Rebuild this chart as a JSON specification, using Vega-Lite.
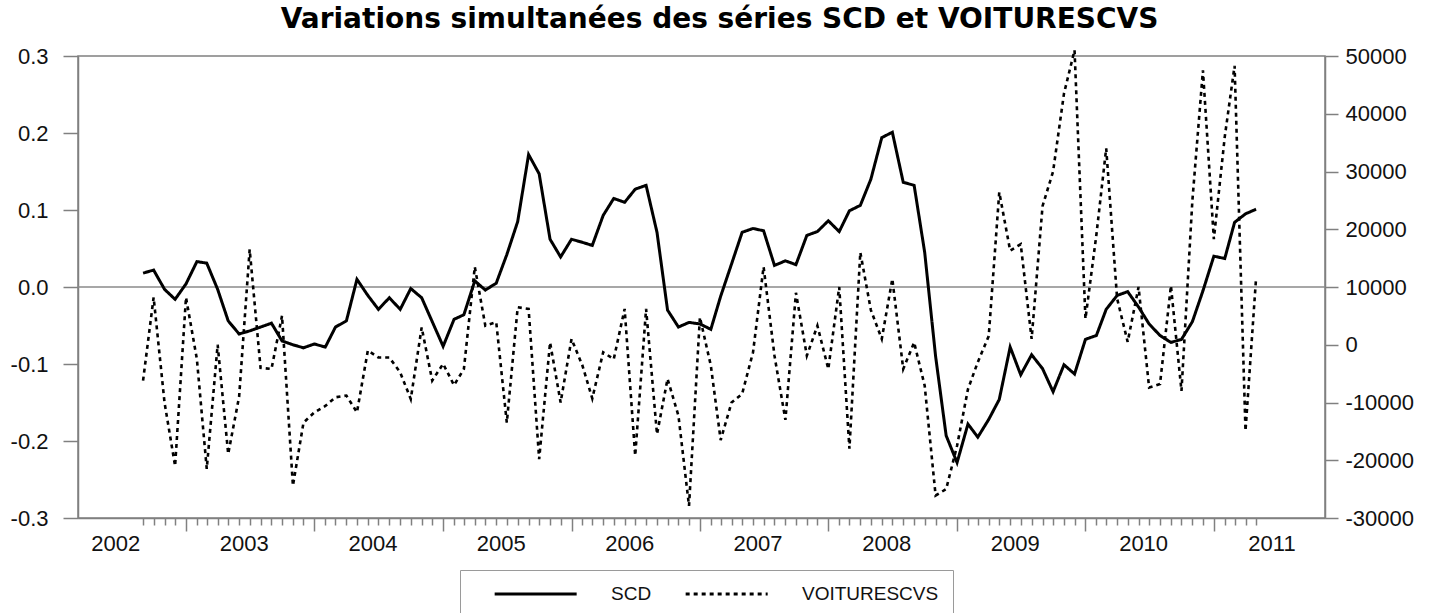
{
  "$schema": "https://vega.github.io/schema/vega-lite/v6.json",
  "width": 1247,
  "height": 462,
  "autosize": {"type": "none"},
  "padding": {"left": 78, "top": 56, "right": 110, "bottom": 95},
  "background": "white",
  "title": {
    "text": "Variations simultanées des séries SCD et VOITURESCVS",
    "font": "DejaVu Sans",
    "fontSize": 28,
    "fontWeight": "bold",
    "color": "#000000",
    "anchor": "middle",
    "baseline": "alphabetic",
    "offset": -11,
    "dx": 18
  },
  "data": {
    "values": [
      {"date": "2002-09-01", "SCD": 0.018, "VOITURESCVS": -6200},
      {"date": "2002-10-01", "SCD": 0.022, "VOITURESCVS": 8200},
      {"date": "2002-11-01", "SCD": -0.003, "VOITURESCVS": -10000},
      {"date": "2002-12-01", "SCD": -0.016, "VOITURESCVS": -21000},
      {"date": "2003-01-01", "SCD": 0.004, "VOITURESCVS": 8200},
      {"date": "2003-02-01", "SCD": 0.033, "VOITURESCVS": -2500},
      {"date": "2003-03-01", "SCD": 0.031, "VOITURESCVS": -21500},
      {"date": "2003-04-01", "SCD": -0.003, "VOITURESCVS": 0},
      {"date": "2003-05-01", "SCD": -0.044, "VOITURESCVS": -18900},
      {"date": "2003-06-01", "SCD": -0.061, "VOITURESCVS": -9000},
      {"date": "2003-07-01", "SCD": -0.057, "VOITURESCVS": 16500},
      {"date": "2003-08-01", "SCD": -0.052, "VOITURESCVS": -4000},
      {"date": "2003-09-01", "SCD": -0.047, "VOITURESCVS": -4200},
      {"date": "2003-10-01", "SCD": -0.070, "VOITURESCVS": 5000},
      {"date": "2003-11-01", "SCD": -0.075, "VOITURESCVS": -24400},
      {"date": "2003-12-01", "SCD": -0.079, "VOITURESCVS": -13500},
      {"date": "2004-01-01", "SCD": -0.074, "VOITURESCVS": -11700},
      {"date": "2004-02-01", "SCD": -0.078, "VOITURESCVS": -10600},
      {"date": "2004-03-01", "SCD": -0.052, "VOITURESCVS": -9100},
      {"date": "2004-04-01", "SCD": -0.044, "VOITURESCVS": -8800},
      {"date": "2004-05-01", "SCD": 0.010, "VOITURESCVS": -11700},
      {"date": "2004-06-01", "SCD": -0.011, "VOITURESCVS": -1000},
      {"date": "2004-07-01", "SCD": -0.029, "VOITURESCVS": -2200},
      {"date": "2004-08-01", "SCD": -0.014, "VOITURESCVS": -2200},
      {"date": "2004-09-01", "SCD": -0.029, "VOITURESCVS": -4800},
      {"date": "2004-10-01", "SCD": -0.002, "VOITURESCVS": -9400},
      {"date": "2004-11-01", "SCD": -0.014, "VOITURESCVS": 3000},
      {"date": "2004-12-01", "SCD": -0.045, "VOITURESCVS": -6200},
      {"date": "2005-01-01", "SCD": -0.077, "VOITURESCVS": -3300},
      {"date": "2005-02-01", "SCD": -0.042, "VOITURESCVS": -7000},
      {"date": "2005-03-01", "SCD": -0.036, "VOITURESCVS": -4200},
      {"date": "2005-04-01", "SCD": 0.008, "VOITURESCVS": 13500},
      {"date": "2005-05-01", "SCD": -0.004, "VOITURESCVS": 3300},
      {"date": "2005-06-01", "SCD": 0.005, "VOITURESCVS": 3900},
      {"date": "2005-07-01", "SCD": 0.042, "VOITURESCVS": -13500},
      {"date": "2005-08-01", "SCD": 0.085, "VOITURESCVS": 6500},
      {"date": "2005-09-01", "SCD": 0.172, "VOITURESCVS": 6200},
      {"date": "2005-10-01", "SCD": 0.147, "VOITURESCVS": -19800},
      {"date": "2005-11-01", "SCD": 0.062, "VOITURESCVS": 400},
      {"date": "2005-12-01", "SCD": 0.039, "VOITURESCVS": -10000},
      {"date": "2006-01-01", "SCD": 0.062, "VOITURESCVS": 1000},
      {"date": "2006-02-01", "SCD": 0.058, "VOITURESCVS": -3600},
      {"date": "2006-03-01", "SCD": 0.054, "VOITURESCVS": -9300},
      {"date": "2006-04-01", "SCD": 0.093, "VOITURESCVS": -1300},
      {"date": "2006-05-01", "SCD": 0.115, "VOITURESCVS": -2500},
      {"date": "2006-06-01", "SCD": 0.110, "VOITURESCVS": 6200},
      {"date": "2006-07-01", "SCD": 0.127, "VOITURESCVS": -19200},
      {"date": "2006-08-01", "SCD": 0.132, "VOITURESCVS": 6200},
      {"date": "2006-09-01", "SCD": 0.071, "VOITURESCVS": -15500},
      {"date": "2006-10-01", "SCD": -0.030, "VOITURESCVS": -5900},
      {"date": "2006-11-01", "SCD": -0.052, "VOITURESCVS": -12300},
      {"date": "2006-12-01", "SCD": -0.046, "VOITURESCVS": -27900},
      {"date": "2007-01-01", "SCD": -0.048, "VOITURESCVS": 4750},
      {"date": "2007-02-01", "SCD": -0.055, "VOITURESCVS": -3600},
      {"date": "2007-03-01", "SCD": -0.012, "VOITURESCVS": -16500},
      {"date": "2007-04-01", "SCD": 0.030, "VOITURESCVS": -10000},
      {"date": "2007-05-01", "SCD": 0.071, "VOITURESCVS": -8500},
      {"date": "2007-06-01", "SCD": 0.076, "VOITURESCVS": -1300},
      {"date": "2007-07-01", "SCD": 0.073, "VOITURESCVS": 13500},
      {"date": "2007-08-01", "SCD": 0.028, "VOITURESCVS": -1900},
      {"date": "2007-09-01", "SCD": 0.034, "VOITURESCVS": -13000},
      {"date": "2007-10-01", "SCD": 0.029, "VOITURESCVS": 9000},
      {"date": "2007-11-01", "SCD": 0.067, "VOITURESCVS": -1900},
      {"date": "2007-12-01", "SCD": 0.072, "VOITURESCVS": 3300},
      {"date": "2008-01-01", "SCD": 0.086, "VOITURESCVS": -4200},
      {"date": "2008-02-01", "SCD": 0.072, "VOITURESCVS": 10000},
      {"date": "2008-03-01", "SCD": 0.099, "VOITURESCVS": -18000},
      {"date": "2008-04-01", "SCD": 0.106, "VOITURESCVS": 16000},
      {"date": "2008-05-01", "SCD": 0.140, "VOITURESCVS": 6000},
      {"date": "2008-06-01", "SCD": 0.194, "VOITURESCVS": 1000},
      {"date": "2008-07-01", "SCD": 0.201, "VOITURESCVS": 11400},
      {"date": "2008-08-01", "SCD": 0.136, "VOITURESCVS": -4200},
      {"date": "2008-09-01", "SCD": 0.132, "VOITURESCVS": 400},
      {"date": "2008-10-01", "SCD": 0.045, "VOITURESCVS": -7100},
      {"date": "2008-11-01", "SCD": -0.090, "VOITURESCVS": -26100},
      {"date": "2008-12-01", "SCD": -0.193, "VOITURESCVS": -25000},
      {"date": "2009-01-01", "SCD": -0.228, "VOITURESCVS": -17500},
      {"date": "2009-02-01", "SCD": -0.178, "VOITURESCVS": -7700},
      {"date": "2009-03-01", "SCD": -0.195, "VOITURESCVS": -3000},
      {"date": "2009-04-01", "SCD": -0.172, "VOITURESCVS": 1500},
      {"date": "2009-05-01", "SCD": -0.146, "VOITURESCVS": 26400},
      {"date": "2009-06-01", "SCD": -0.078, "VOITURESCVS": 16300},
      {"date": "2009-07-01", "SCD": -0.114, "VOITURESCVS": 17400},
      {"date": "2009-08-01", "SCD": -0.088, "VOITURESCVS": 1000},
      {"date": "2009-09-01", "SCD": -0.106, "VOITURESCVS": 24000},
      {"date": "2009-10-01", "SCD": -0.136, "VOITURESCVS": 30000},
      {"date": "2009-11-01", "SCD": -0.101, "VOITURESCVS": 43500},
      {"date": "2009-12-01", "SCD": -0.113, "VOITURESCVS": 51000},
      {"date": "2010-01-01", "SCD": -0.068, "VOITURESCVS": 4500},
      {"date": "2010-02-01", "SCD": -0.063, "VOITURESCVS": 19000},
      {"date": "2010-03-01", "SCD": -0.029, "VOITURESCVS": 34000},
      {"date": "2010-04-01", "SCD": -0.011, "VOITURESCVS": 8000},
      {"date": "2010-05-01", "SCD": -0.006, "VOITURESCVS": 500},
      {"date": "2010-06-01", "SCD": -0.026, "VOITURESCVS": 10000},
      {"date": "2010-07-01", "SCD": -0.048, "VOITURESCVS": -7400},
      {"date": "2010-08-01", "SCD": -0.063, "VOITURESCVS": -6800},
      {"date": "2010-09-01", "SCD": -0.072, "VOITURESCVS": 10200},
      {"date": "2010-10-01", "SCD": -0.068, "VOITURESCVS": -8000},
      {"date": "2010-11-01", "SCD": -0.045, "VOITURESCVS": 25000},
      {"date": "2010-12-01", "SCD": -0.005, "VOITURESCVS": 47500},
      {"date": "2011-01-01", "SCD": 0.040, "VOITURESCVS": 18300},
      {"date": "2011-02-01", "SCD": 0.037, "VOITURESCVS": 36000},
      {"date": "2011-03-01", "SCD": 0.084, "VOITURESCVS": 48300},
      {"date": "2011-04-01", "SCD": 0.095, "VOITURESCVS": -14900},
      {"date": "2011-05-01", "SCD": 0.101, "VOITURESCVS": 11500}
    ]
  },
  "layer": [
    {
      "layer": [
        {
          "data": {"values": [{}]},
          "mark": {"type": "rule", "color": "#8a8a8a", "strokeWidth": 1.5},
          "encoding": {"y": {"datum": 0, "type": "quantitative"}}
        },
        {
          "mark": {"type": "line", "color": "#000000", "strokeWidth": 3},
          "encoding": {
            "x": {
              "field": "date",
              "type": "temporal",
              "scale": {"type": "utc", "domain": [{"year": 2002, "month": 2, "date": 28, "utc": true}, {"year": 2011, "month": 11, "date": 13, "utc": true}]},
              "axis": {
                "title": null,
                "grid": false,
                "tickCount": {"interval": "month", "step": 1},
                "labelExpr": "utcmonth(datum.value) == 6 ? utcFormat(datum.value, '%Y') : ''",
                "labelOverlap": false,
                "labelFlush": false,
                "labelBound": false,
                "labelOffset": -6,
                "labelPadding": 8,
                "tickSize": {"condition": {"test": "utcmonth(datum.value) == 0", "value": 13}, "value": 7},
                "tickOpacity": {"condition": {"test": "datum.value < utc(2002,8,1) || datum.value > utc(2011,4,1)", "value": 0}, "value": 1}
              }
            },
            "y": {
              "field": "SCD",
              "type": "quantitative",
              "scale": {"domain": [-0.3, 0.3], "nice": false, "zero": false},
              "axis": {
                "title": null,
                "grid": false,
                "values": [-0.3, -0.2, -0.1, 0, 0.1, 0.2, 0.3],
                "labelExpr": "datum.value < 0 ? '-' + format(-datum.value, '.1f') : format(datum.value, '.1f')",
                "tickSize": 15,
                "labelPadding": 15
              }
            },
            "strokeDash": {
              "datum": "SCD",
              "type": "nominal",
              "scale": {"domain": ["SCD", "VOITURESCVS"], "range": [[1, 0], [4, 4]]},
              "legend": {
                "title": null,
                "orient": "none",
                "legendX": 382,
                "legendY": 514,
                "direction": "horizontal",
                "symbolType": "M1.3,0H11.3",
                "symbolSize": 269,
                "symbolStrokeWidth": 3,
                "symbolStrokeColor": "#000000",
                "labelFont": "Liberation Sans",
                "labelFontSize": 19,
                "labelColor": "#111111",
                "labelOffset": 117,
                "columnPadding": 13,
                "padding": 14,
                "strokeColor": "#9a9a9a"
              }
            }
          }
        }
      ]
    },
    {
      "mark": {"type": "line", "color": "#000000", "strokeWidth": 2.6},
      "encoding": {
        "x": {
          "field": "date",
          "type": "temporal",
          "scale": {"type": "utc", "domain": [{"year": 2002, "month": 2, "date": 28, "utc": true}, {"year": 2011, "month": 11, "date": 13, "utc": true}]},
          "axis": {
            "title": null,
            "grid": false,
            "tickCount": {"interval": "month", "step": 1},
            "labelExpr": "utcmonth(datum.value) == 6 ? utcFormat(datum.value, '%Y') : ''",
            "labelOverlap": false,
            "labelFlush": false,
            "labelBound": false,
            "labelOffset": -6,
            "labelPadding": 8,
            "tickSize": {"condition": {"test": "utcmonth(datum.value) == 0", "value": 13}, "value": 7},
            "tickOpacity": {"condition": {"test": "datum.value < utc(2002,8,1) || datum.value > utc(2011,4,1)", "value": 0}, "value": 1}
          }
        },
        "y": {
          "field": "VOITURESCVS",
          "type": "quantitative",
          "scale": {"domain": [-30000, 50000], "nice": false, "zero": false},
          "axis": {
            "orient": "right",
            "title": null,
            "grid": false,
            "values": [-30000, -20000, -10000, 0, 10000, 20000, 30000, 40000, 50000],
            "labelExpr": "datum.value < 0 ? '-' + format(-datum.value, 'd') : format(datum.value, 'd')",
            "tickSize": 13,
            "labelPadding": 7
          }
        },
        "strokeDash": {"datum": "VOITURESCVS", "type": "nominal"}
      }
    }
  ],
  "resolve": {"scale": {"y": "independent"}},
  "config": {
    "view": {"stroke": "#808080", "strokeWidth": 1.5},
    "axis": {
      "domainColor": "#808080",
      "domainWidth": 1.5,
      "tickColor": "#808080",
      "tickWidth": 1.5,
      "labelFont": "Liberation Sans",
      "labelFontSize": 22,
      "labelColor": "#111111"
    }
  }
}
